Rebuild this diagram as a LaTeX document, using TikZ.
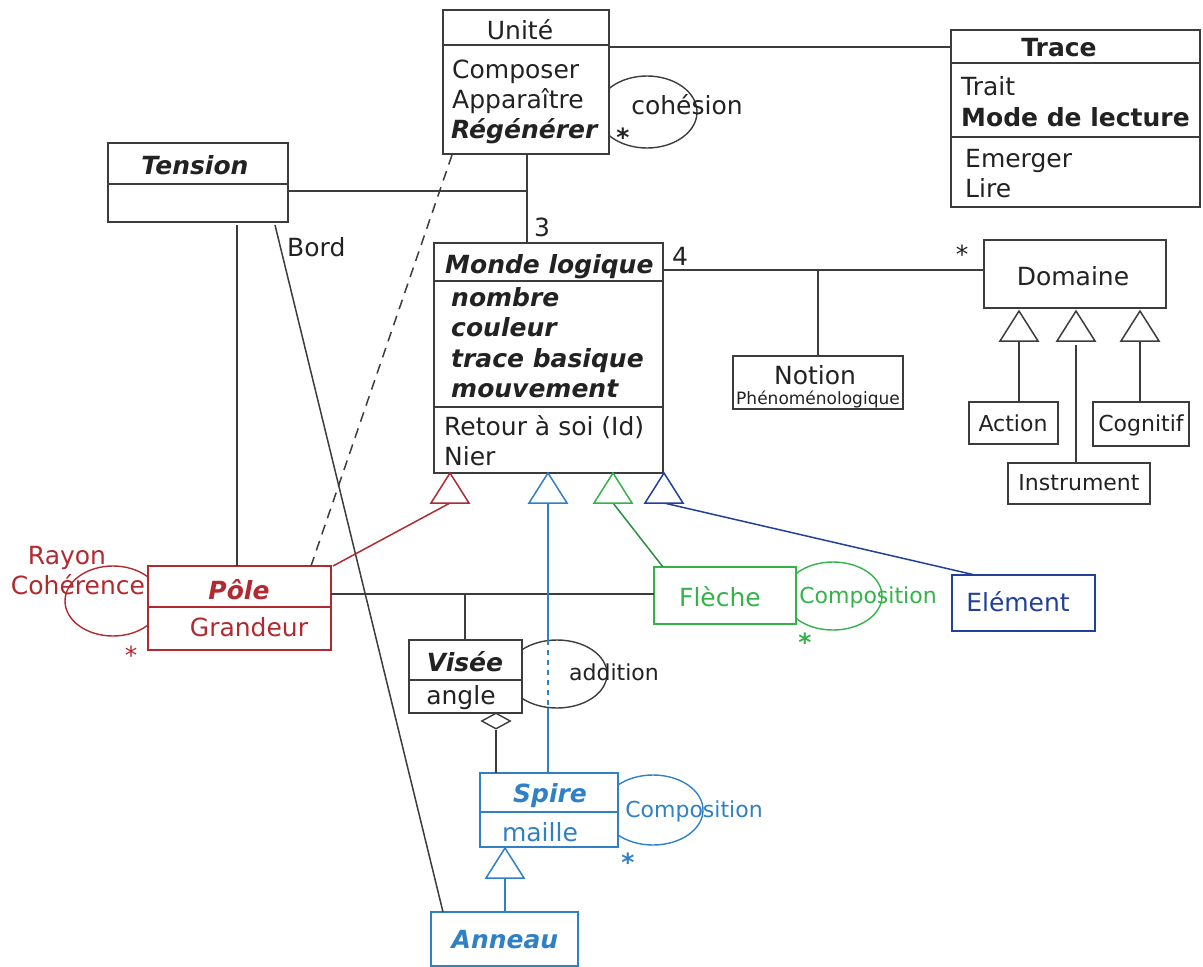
\documentclass[tikz,border=0pt]{standalone}
\usepackage{fontspec}
\setmainfont{DejaVu Sans}[BoldFont={DejaVu Sans Bold},ItalicFont={DejaVu Sans Oblique},BoldItalicFont={DejaVu Sans Bold Oblique}]
\usetikzlibrary{calc,shapes.geometric}
\definecolor{cred}{HTML}{B02A30}
\definecolor{cgreen}{HTML}{33B34A}
\definecolor{cblue}{HTML}{2F80C5}
\definecolor{cdblue}{HTML}{22409A}
\definecolor{cgray}{HTML}{3C3C3C}
\definecolor{ctext}{HTML}{222222}
\newcommand\myfs[1]{\fontsize{#1}{#1}\selectfont}
\newcommand\compline[3][cgray]{\draw[#1, line width=1.6pt] ($(#2.north west)+(0,#3)$) -- ($(#2.north east)+(0,#3)$);}
\tikzset{
  box/.style={draw=cgray, line width=1.6pt, fill=white, inner sep=0, outer sep=0, anchor=north west},
  ln/.style={draw=cgray, line width=1.5pt},
  t/.style={inner sep=0, anchor=base west, text=ctext, font=\myfs{25}},
  tc/.style={t, anchor=base},
  bi/.style={font=\myfs{25}\bfseries\itshape},
  gtri/.style={line width=1.5pt, fill=white},
}
\begin{document}
\begin{tikzpicture}[x=1pt,y=-1pt]
\useasboundingbox (0,0) rectangle (1203,967);

% self-association loops
\draw[cgray, line width=1.4pt] (647,112) ellipse [x radius=50pt, y radius=36pt];
\draw[cred, line width=1.4pt] (113,601) ellipse [x radius=48pt, y radius=35pt];
\draw[cgreen, line width=1.4pt] (833,596) ellipse [x radius=49pt, y radius=34pt];
\draw[cgray, line width=1.4pt] (557,674) ellipse [x radius=50pt, y radius=34pt];
\draw[cblue, line width=1.4pt] (653,810) ellipse [x radius=50pt, y radius=35pt];

% boxes
\node[box, minimum width=166pt, minimum height=144pt] (unite) at (443,10) {};
\node[box, minimum width=249pt, minimum height=177pt] (trace) at (951,30) {};
\node[box, minimum width=180pt, minimum height=79pt] (tension) at (108,143) {};
\node[box, minimum width=229pt, minimum height=230pt] (monde) at (434,243) {};
\node[box, minimum width=182pt, minimum height=68pt] (domaine) at (984,240) {};
\node[box, minimum width=170pt, minimum height=53pt] (notion) at (733,356) {};
\node[box, minimum width=89pt, minimum height=42pt] (action) at (969,402) {};
\node[box, minimum width=96pt, minimum height=44pt] (cognitif) at (1093,402) {};
\node[box, minimum width=142pt, minimum height=41pt] (instrument) at (1008,463) {};
\node[box, draw=cred, minimum width=183pt, minimum height=84pt] (pole) at (148,566) {};
\node[box, draw=cgreen, minimum width=142pt, minimum height=57pt] (fleche) at (654,567) {};
\node[box, draw=cdblue, minimum width=143pt, minimum height=56pt] (element) at (952,575) {};
\node[box, minimum width=113pt, minimum height=73pt] (visee) at (409,640) {};
\node[box, draw=cblue, minimum width=138pt, minimum height=74pt] (spire) at (480,773) {};
\node[box, draw=cblue, minimum width=147pt, minimum height=54pt] (anneau) at (431,912) {};

\compline{unite}{35}
\compline{trace}{33}
\compline{trace}{107}
\compline{tension}{41}
\compline{monde}{38}
\compline{monde}{164}
\compline[cred]{pole}{41}
\compline{visee}{40}
\compline[cblue]{spire}{39}

% connectors
\draw[ln] ($(unite.north east)+(0,37)$) -- ($(trace.north west)+(0,17)$);
\draw[ln] ($(unite.south west)+(84,0)$) -- ($(monde.north west)+(93,0)$);
\draw[ln] ($(tension.north east)+(0,48)$) -- ($(unite.south west)+(84,37)$);
\draw[ln] ($(monde.north east)+(0,27)$) -- ($(domaine.north west)+(0,30)$);
\draw[ln] ($(notion.north west)+(85,-86)$) -- ($(notion.north west)+(85,0)$);
\draw[ln, dashed, dash pattern=on 10pt off 7pt] ($(unite.south west)+(9,1)$) -- ($(pole.north west)+(163,0)$);
\draw[ln] ($(tension.south west)+(129,3)$) -- ($(pole.north west)+(89,0)$);
\draw[ln] ($(tension.south west)+(167,3)$) -- ($(anneau.north west)+(12,0)$);
\draw[ln] ($(pole.north east)+(0,28)$) -- ($(fleche.north west)+(0,27)$);
\draw[ln] ($(visee.north west)+(56,-46)$) -- ($(visee.north west)+(56,0)$);

% generalisation triangles on Monde logique
\coordinate (tR) at ($(monde.south west)+(16,0)$);
\coordinate (tB) at ($(monde.south west)+(114,0)$);
\coordinate (tG) at ($(monde.south west)+(179,0)$);
\coordinate (tD) at ($(monde.south west)+(230,0)$);
\draw[cred, line width=1.5pt] ($(pole.north east)+(2,0)$) -- ($(tR)+(0,30)$);
\draw[cblue, line width=1.5pt] ($(tB)+(0,30)$) -- ($(tB)+(0,167)$);
\draw[cblue, line width=1.5pt, dashed, dash pattern=on 5pt off 5pt] ($(tB)+(0,167)$) -- ($(tB)+(0,235)$);
\draw[cblue, line width=1.5pt] ($(tB)+(0,235)$) -- (tB |- spire.north);
\draw[cgreen!80!black, line width=1.5pt] ($(tG)+(0,30)$) -- ($(fleche.north west)+(9,0)$);
\draw[cdblue, line width=1.5pt] ($(tD)+(0,30)$) -- ($(element.north west)+(23,0)$);
\draw[gtri, draw=cred] (tR) -- ++(-19,30) -- ++(38,0) -- cycle;
\draw[gtri, draw=cblue] (tB) -- ++(-19,30) -- ++(38,0) -- cycle;
\draw[gtri, draw=cgreen] (tG) -- ++(-19,30) -- ++(38,0) -- cycle;
\draw[gtri, draw=cdblue] (tD) -- ++(-19,30) -- ++(38,0) -- cycle;

% Domaine generalisations
\coordinate (d1) at ($(domaine.south west)+(35,3)$);
\coordinate (d2) at ($(domaine.south west)+(92,3)$);
\coordinate (d3) at ($(domaine.south west)+(156,3)$);
\draw[ln] ($(d1)+(0,30)$) -- ($(action.north west)+(50,0)$);
\draw[ln] ($(d2)+(0,34)$) -- ($(instrument.north west)+(68,0)$);
\draw[ln] ($(d3)+(0,30)$) -- ($(cognitif.north west)+(47,0)$);
\draw[gtri, draw=cgray] (d1) -- ++(-19,30) -- ++(38,0) -- cycle;
\draw[gtri, draw=cgray] (d2) -- ++(-19,30) -- ++(38,0) -- cycle;
\draw[gtri, draw=cgray] (d3) -- ++(-19,30) -- ++(38,0) -- cycle;

% Spire -> Anneau
\coordinate (tS) at ($(spire.south west)+(25,1)$);
\draw[cblue, line width=1.5pt] ($(tS)+(0,30)$) -- ($(anneau.north west)+(74,0)$);
\draw[gtri, draw=cblue] (tS) -- ++(-19,30) -- ++(38,0) -- cycle;

% aggregation Visée <> Spire
\node[diamond, draw=cgray, line width=1.4pt, fill=white, inner sep=0, minimum width=29pt, minimum height=16pt] (dia) at ($(visee.south west)+(87,8)$) {};
\draw[ln] (dia.south) -- (dia.south |- spire.north);

% texts
\node[tc] at (520,39) {Unité};
\node[t] at (452,78) {Composer};
\node[t] at (452,108) {Apparaître};
\node[t, bi] at (451,138) {Régénérer};
\node[tc] at (687,114) {cohésion};
\node[tc, font=\myfs{25}\bfseries] at (623,146) {*};

\node[tc, font=\myfs{25}\bfseries] at (1059,56) {Trace};
\node[t] at (961,95) {Trait};
\node[t, font=\myfs{25}\bfseries] at (961,126) {Mode de lecture};
\node[t] at (965,167) {Emerger};
\node[t] at (965,197) {Lire};

\node[tc, bi] at (195,174) {Tension};
\node[t] at (287,256) {Bord};
\node[tc] at (542,236) {3};
\node[tc] at (680,265) {4};
\node[tc] at (962,263) {*};

\node[t, bi] at (445,273) {Monde logique};
\node[t, bi] at (451,306) {nombre};
\node[t, bi] at (451,336) {couleur};
\node[t, bi] at (451,367) {trace basique};
\node[t, bi] at (451,397) {mouvement};
\node[t] at (444,435) {Retour à soi (Id)};
\node[t] at (444,465) {Nier};

\node[tc] at (1073,285) {Domaine};
\node[tc] at (815,384) {Notion};
\node[tc, font=\myfs{17}] at (818,404) {Phénoménologique};
\node[tc, font=\myfs{22}] at (1013,431) {Action};
\node[tc, font=\myfs{22}] at (1141,431) {Cognitif};
\node[tc, font=\myfs{22}] at (1079,490) {Instrument};

\node[tc, text=cred] at (67,564) {Rayon};
\node[tc, text=cred] at (78,594) {Cohérence};
\node[tc, bi, text=cred] at (239,599) {Pôle};
\node[tc, text=cred] at (249,636) {Grandeur};
\node[tc, text=cred] at (131,664) {*};

\node[tc, text=cgreen] at (720,606) {Flèche};
\node[tc, text=cgreen, font=\myfs{22}] at (868,603) {Composition};
\node[tc, text=cgreen, font=\myfs{25}\bfseries] at (805,651) {*};
\node[tc, text=cdblue] at (1018,611) {Elément};

\node[tc, bi] at (465,671) {Visée};
\node[tc] at (461,704) {angle};
\node[tc, font=\myfs{22}] at (614,680) {addition};

\node[tc, bi, text=cblue] at (550,802) {Spire};
\node[tc, text=cblue] at (540,841) {maille};
\node[tc, text=cblue, font=\myfs{22}] at (694,817) {Composition};
\node[tc, text=cblue, font=\myfs{25}\bfseries] at (628,871) {*};
\node[tc, bi, text=cblue] at (505,948) {Anneau};
\end{tikzpicture}
\end{document}
